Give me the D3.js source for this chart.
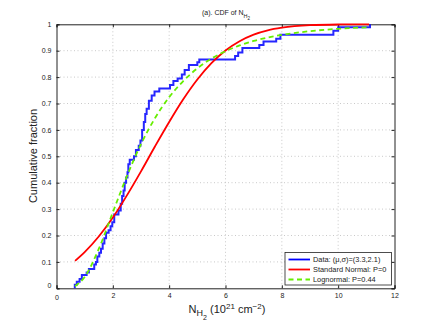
<!DOCTYPE html>
<html><head><meta charset="utf-8">
<script src="https://cdn.jsdelivr.net/npm/d3@7"></script>
<style>
html,body{margin:0;padding:0;background:#fff;}
svg{display:block;font-family:"Liberation Sans",Arial,Helvetica,sans-serif;}
</style></head>
<body><svg id="c" width="436" height="327"></svg>
<script>
// Empirical CDF (staircase): x where step occurs, level after the step
const dataX = [0.65,0.72,0.82,0.90,1.07,1.15,1.34,1.40,1.45,1.52,1.58,1.64,1.70,1.76,1.85,1.92,1.98,2.05,2.20,2.28,2.33,2.38,2.42,2.47,2.52,2.55,2.60,2.75,2.82,2.92,2.98,3.04,3.10,3.15,3.20,3.28,3.38,3.48,3.65,4.03,4.15,4.30,4.45,4.55,4.70,5.00,5.07,6.34,6.45,6.60,7.20,7.35,7.80,7.95,9.83,10.0,11.13];
const dataF = [0.013,0.025,0.035,0.05,0.06,0.073,0.09,0.10,0.12,0.135,0.15,0.17,0.19,0.21,0.22,0.235,0.25,0.28,0.295,0.32,0.35,0.37,0.40,0.42,0.44,0.47,0.487,0.50,0.524,0.54,0.56,0.60,0.63,0.66,0.68,0.71,0.73,0.745,0.757,0.77,0.785,0.795,0.81,0.827,0.846,0.856,0.867,0.88,0.893,0.91,0.922,0.935,0.945,0.96,0.976,0.989,1.0];
// Standard normal fit
const normX = [0.66,1.0,1.5,2.0,2.5,3.0,3.5,4.0,4.5,5.0,5.5,6.0,6.5,7.0,7.5,8.0,9.0,10.0,11.1];
const normF = [0.104,0.137,0.196,0.268,0.352,0.443,0.538,0.630,0.716,0.791,0.853,0.901,0.936,0.961,0.977,0.987,0.9967,0.9993,1.0];
// Lognormal fit
const lognX = [0.66,1.0,1.5,2.0,2.5,3.0,3.5,4.0,4.5,5.0,5.5,6.0,6.5,7.0,7.5,8.0,9.0,10.0,11.1];
const lognF = [0.008,0.043,0.149,0.288,0.425,0.546,0.645,0.724,0.785,0.833,0.870,0.898,0.920,0.937,0.950,0.960,0.974,0.983,0.989];
const xTicks = [0,2,4,6,8,10,12];
const yTicks = [0,0.1,0.2,0.3,0.4,0.5,0.6,0.7,0.8,0.9,1];
const legendLabels = ["Data: (\u03bc,\u03c3)=(3.3,2.1)","Standard Normal: P=0","Lognormal: P=0.44"];
const colors = ["#0000ff","#ff0000","#66ee00"];

const svg = d3.select("#c");
const L=56.5, R=394.5, T=24.3, B=288.3;
const x = d3.scaleLinear().domain([0,12]).range([L,R]);
const y = d3.scaleLinear().domain([0,1]).range([B,T]);

// grid
const g = svg.append("g");
g.selectAll(".gx").data(xTicks.slice(1,-1)).enter().append("line")
 .attr("x1",d=>x(d)).attr("x2",d=>x(d)).attr("y1",T).attr("y2",B)
 .attr("stroke","#bbb").attr("stroke-width",0.8).attr("stroke-dasharray","1,2.5");
g.selectAll(".gy").data(yTicks.slice(1,-1)).enter().append("line")
 .attr("y1",d=>y(d)).attr("y2",d=>y(d)).attr("x1",L).attr("x2",R)
 .attr("stroke","#bbb").attr("stroke-width",0.8).attr("stroke-dasharray","1,2.5");

// axes
const xAx = d3.axisBottom(x).tickValues(xTicks).tickSize(-3).tickPadding(5).tickFormat(d3.format("d"));
const yAx = d3.axisLeft(y).tickValues(yTicks).tickSize(-3).tickPadding(5).tickFormat(d=>d===0?"0":d===1?"1":d3.format(".1f")(d));
const xa = svg.append("g").attr("transform",`translate(0,${B})`).call(xAx);
const ya = svg.append("g").attr("transform",`translate(${L},0)`).call(yAx);
svg.append("g").attr("transform",`translate(0,${T})`).call(d3.axisTop(x).tickValues(xTicks).tickSize(-3).tickFormat(""));
svg.append("g").attr("transform",`translate(${R},0)`).call(d3.axisRight(y).tickValues(yTicks).tickSize(-3).tickFormat(""));
svg.selectAll(".domain").attr("stroke","#222").attr("stroke-width",1);
svg.selectAll(".tick line").attr("stroke","#222");
svg.selectAll(".tick text").attr("font-size","7px").attr("fill","#222").attr("font-family","Liberation Sans, Arial, sans-serif");
ya.selectAll(".tick text").filter(d=>d===0).attr("dy","-0.1em");
xa.selectAll(".tick text").filter(d=>d===0).attr("dy","0.9em");

// curves
const stepPts = [];
dataX.forEach((d,i)=>{ stepPts.push([d, i===0?0:dataF[i-1]]); stepPts.push([d, dataF[i]]); });
const lineStep = d3.line().x(d=>x(d[0])).y(d=>y(d[1]));
const smooth = d3.line().x(d=>x(d[0])).y(d=>y(d[1])).curve(d3.curveMonotoneX);

svg.append("path").attr("d",lineStep(stepPts)).attr("fill","none")
 .attr("stroke",colors[0]).attr("stroke-width",2).attr("stroke-linejoin","miter").attr("opacity",0.85);
svg.append("path").attr("d",smooth(normX.map((d,i)=>[d,normF[i]]))).attr("fill","none")
 .attr("stroke",colors[1]).attr("stroke-width",1.8);
svg.append("path").attr("d",smooth(lognX.map((d,i)=>[d,lognF[i]]))).attr("fill","none")
 .attr("stroke",colors[2]).attr("stroke-width",1.8).attr("stroke-dasharray","5,3.5");

// title
const t = svg.append("text").attr("x",226).attr("y",15).attr("text-anchor","middle")
 .attr("font-size","7px").attr("fill","#222");
t.append("tspan").text("(a). CDF of N");
t.append("tspan").attr("font-size","5.5px").attr("dy","2.5").text("H");
t.append("tspan").attr("font-size","4.5px").attr("dy","2").text("2");

// y label
svg.append("text").attr("transform","translate(37,156) rotate(-90)").attr("text-anchor","middle")
 .attr("font-size","11px").attr("fill","#222").text("Cumulative fraction");

// x label
const xl = svg.append("text").attr("x",227).attr("y",313).attr("text-anchor","middle")
 .attr("font-size","11px").attr("fill","#222");
xl.append("tspan").text("N");
xl.append("tspan").attr("font-size","9px").attr("dy","3").text("H");
xl.append("tspan").attr("font-size","7px").attr("dy","4").text("2");
xl.append("tspan").attr("dy","-7").text(" (10");
xl.append("tspan").attr("font-size","8px").attr("dy","-4").text("21");
xl.append("tspan").attr("dy","4").text(" cm");
xl.append("tspan").attr("font-size","8px").attr("dy","-4").text("\u22122");
xl.append("tspan").attr("dy","4").text(")");

// legend
const lg = svg.append("g");
lg.append("rect").attr("x",285).attr("y",252.5).attr("width",106.5).attr("height",32.5)
 .attr("fill","#fff").attr("stroke","#222").attr("stroke-width",0.8);
legendLabels.forEach((lab,i)=>{
  const yy = 259.5 + i*10;
  lg.append("line").attr("x1",288.5).attr("x2",310).attr("y1",yy).attr("y2",yy)
   .attr("stroke",colors[i]).attr("stroke-width",1.8).attr("stroke-dasharray",i===2?"5,3.5":null);
  lg.append("text").attr("x",313).attr("y",yy+2.6).attr("font-size","7.4px").attr("fill","#222").text(lab);
});
</script></body></html>
